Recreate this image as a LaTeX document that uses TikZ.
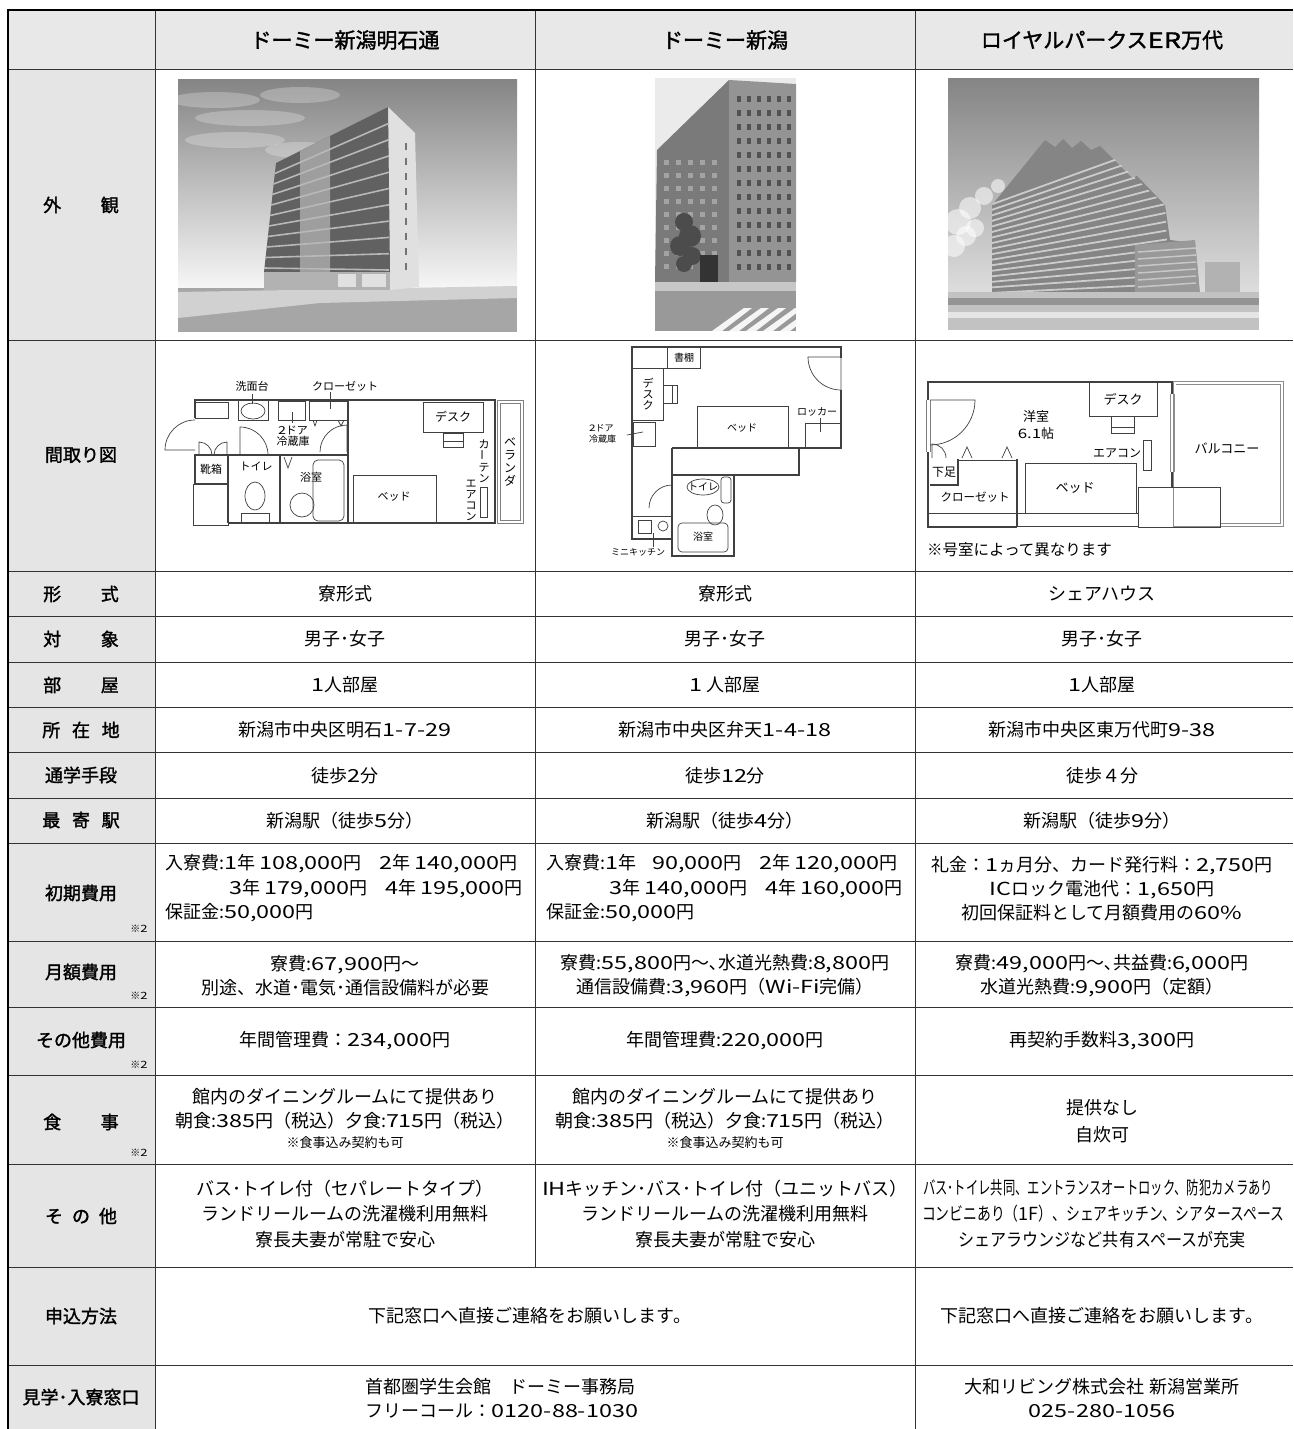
\documentclass[tikz,border=0pt]{standalone}
\usepackage{fontspec}
\setmainfont{Noto Sans CJK JP}[BoldFont={Noto Sans CJK JP}, BoldFeatures={FakeBold=1.6}]
\newfontfamily\latfont{Noto Sans CJK JP}[FakeStretch=1.3, BoldFont={Noto Sans CJK JP}, BoldFeatures={FakeBold=1.6}]
\usetikzlibrary{positioning}

\XeTeXinterchartokenstate=1
\newXeTeXintercharclass\latcls
\newcount\clsn
\def\setlat#1{\XeTeXinterchartoks #1 \latcls={\latfont}\XeTeXinterchartoks \latcls #1={\rmfamily}}
\clsn=0
\loop\ifnum\clsn<\latcls \setlat{\clsn}\advance\clsn by 1 \repeat
\setlat{4095}
\def\latrange#1#2{\clsn=#1 \loop\ifnum\clsn<#2 \XeTeXcharclass\clsn=\latcls \advance\clsn by 1 \repeat}
\latrange{`0}{`:}
\latrange{`A}{`[}
\latrange{`a}{`\{}
\XeTeXcharclass`,=\latcls
\XeTeXcharclass`.=\latcls
\XeTeXcharclass`-=\latcls
\XeTeXcharclass`\%=\latcls

\tikzset{
  grid/.style={line width=1pt, draw=black!80},
  edge/.style={line width=2.6pt, draw=black},
  head/.style={font=\bfseries\fontsize{21}{24}\selectfont, inner sep=0pt},
  lab/.style={font=\bfseries\fontsize{18}{22}\selectfont, align=center, inner sep=0pt},
  txt/.style={font=\fontsize{18}{24}\selectfont, align=center, inner sep=0pt},
  small/.style={font=\fontsize{13}{15}\selectfont, inner sep=0pt},
  mark2/.style={font=\fontsize{10}{11}\selectfont, inner sep=0pt},
  wall/.style={line width=2.4pt, draw=black!75},
  thin/.style={line width=0.7pt, draw=black!75},
  pl/.style={font=\fontsize{11}{11}\selectfont, inner sep=0pt, align=center},
}

\begin{document}
\begin{tikzpicture}[x=1pt,y=-1pt]
\useasboundingbox (0,0) rectangle (1293,1429);
\fill[white] (0,0) rectangle (1293,1429);

\fill[black!9] (8,10) rectangle (1293,70);
\fill[black!10] (8,70) rectangle (155,1429);

\foreach \y in {70,340,571,616,662,707,752,798,843,941,1007,1075,1164,1267,1365}
  \draw[grid] (8,\y) -- (1293,\y);
\draw[grid] (155,10) -- (155,1429);
\draw[grid] (535,10) -- (535,1267);
\draw[grid] (915,10) -- (915,1429);
\draw[edge] (8,10) -- (1293,10);
\draw[edge] (8,8.7) -- (8,1429);

% photos
\begin{scope}
\clip (178,79) rectangle (517,332);
\shade[top color=black!48, bottom color=black!3] (178,79) rectangle (517,290);
\foreach \cx/\cy/\rx in {215/100/45, 250/118/55, 300/95/40, 235/140/50, 300/150/35}
  \fill[white, opacity=0.25] (\cx,\cy) ellipse [x radius=\rx, y radius=8];
\fill[black!35] (178,288) rectangle (517,332);
\fill[black!18] (178,292) -- (517,286) -- (517,298) -- (320,303) -- (178,318) -- cycle;
\fill[black!12] (388,107) -- (415,133) -- (419,287) -- (390,290) -- cycle;
\fill[black!62] (276,163) -- (388,107) -- (390,272) -- (264,272) -- cycle;
\fill[black!38] (300,151) -- (330,136) -- (330,272) -- (300,272) -- cycle;
\foreach \i in {1,...,10}
  \draw[black!28, line width=1.6pt] ({276-1.2*\i},{163+10.5*\i}) -- (389,{107+16.3*\i});
\fill[black!30] (264,272) rectangle (390,290);
\fill[black!12] (338,274) rectangle (356,287);
\fill[black!12] (362,274) rectangle (386,287);
\foreach \i in {1,...,9}
  \fill[black!55] (405,{128+15*\i}) rectangle (407,{135+15*\i});
\end{scope}

\begin{scope}
\clip (655,78) rectangle (796,331);
\fill[black!8] (655,78) rectangle (796,331);
\fill[black!52] (657,150) -- (729,80) -- (729,282) -- (655,282) -- cycle;
\fill[black!42] (729,80) -- (796,84) -- (796,282) -- (729,282) -- cycle;
\foreach \c in {0,...,5}
  \foreach \r in {0,...,12}
    \fill[black!68] ({737+10*\c},{96+14*\r}) rectangle ++(4,6);
\foreach \c in {0,...,4}
  \foreach \r in {0,...,8}
    \fill[black!36] ({664+12*\c},{160+13*\r}) rectangle ++(5,5);
\foreach \cx/\cy/\r in {684/222/9, 690/236/11, 680/246/10, 692/256/9, 684/264/8}
  \fill[black!70] (\cx,\cy) circle (\r);
\fill[black!80] (700,255) rectangle (718,282);
\fill[black!40] (655,282) rectangle (796,331);
\fill[black!22] (655,282) rectangle (796,291);
\foreach \k in {0,...,5}
  \fill[black!4] ({712+17*\k},331) -- ({722+17*\k},331) -- ({752+17*\k},308) -- ({744+17*\k},308) -- cycle;
\end{scope}

\begin{scope}
\clip (948,78) rectangle (1259,330);
\shade[top color=black!48, bottom color=black!12] (948,78) rectangle (1259,300);
\foreach \cx/\cy/\r in {958/222/13, 970/208/11, 984/196/9, 954/246/11, 966/236/10, 998/186/7, 975/228/9}
  \fill[white, opacity=0.55] (\cx,\cy) circle (\r);
\fill[black!48] (992,205) -- (1045,140) -- (1055,147) -- (1063,139) -- (1072,148) -- (1081,141) -- (1091,150) -- (1100,146) -- (1132,178) -- (1137,176) -- (1165,205) -- (1170,240) -- (1195,243) -- (1200,295) -- (992,295) -- cycle;
\begin{scope}
\clip (992,205) -- (1045,140) -- (1100,146) -- (1165,205) -- (1170,295) -- (992,295) -- cycle;
\foreach \i in {0,...,16}
  \draw[black!20, line width=1.8pt] (990,{205+5.5*\i}) -- (1170,{140+9*\i});
\end{scope}
\fill[black!40] (1135,245) -- (1195,240) -- (1200,295) -- (1135,295) -- cycle;
\foreach \i in {0,...,5}
  \draw[black!22, line width=1.5pt] (1138,{252+7*\i}) -- (1196,{248+7*\i});
\fill[black!30] (1205,262) rectangle (1240,300);
\fill[black!24] (948,292) rectangle (1259,330);
\fill[black!42] (948,298) rectangle (1259,305);
\fill[black!10] (948,312) rectangle (1259,318);
\end{scope}

% floor plan 1
\draw[wall] (195,418) |- (495,400) |- (228,523);
\draw[wall] (348,400) -- (348,523);
\draw[wall] (228,455) -- (348,455);
\draw[wall] (228,455) -- (228,523);
\draw[wall] (280,455) -- (280,523);
\draw[wall] (195,455) rectangle (228,484);
\draw[thin] (193,484) rectangle (228,525);
\draw[thin] (195,450) -- (165,450) arc[start angle=180, end angle=270, radius=30];
\draw[thin] (195,402) rectangle (228,418);
\draw[thin] (238,400) -- (238,420) -- (268,420) -- (268,400);
\draw[thin] (253,411) ellipse [x radius=12, y radius=8];
\draw[thin] (278,401) rectangle (305,420);
\draw[thin] (292,412) -- (292,423);
\draw[thin] (309,401) rectangle (347,420);
\draw[thin] (330,392) -- (330,409);
\draw[thin] (252,394) -- (252,404);
\node[pl] (p1sink) at (252,386) {洗面台};
\node[pl] (p1clos) at (345,386) {クローゼット};
\node[pl] (p1ref) at (293,436) {2ドア\\冷蔵庫};
\draw[thin] (240,455) -- (240,427) arc[start angle=270, end angle=360, radius=28];
\draw[thin] (347,452) -- (347,425) arc[start angle=270, end angle=180, radius=27];
\draw[thin] (199,455) -- (199,442) arc[start angle=270, end angle=360, radius=13];
\draw[thin] (227,455) -- (227,442) arc[start angle=270, end angle=180, radius=13];
\node[pl] (p1shoe) at (211,469) {靴箱};
\node[pl] (p1wc) at (256,466) {トイレ};
\draw[thin] (255,496) ellipse [x radius=10, y radius=14];
\draw[thin] (241,523) -- (241,513) -- (269,513) -- (269,523);
\draw[thin] (284,457) -- (288,468) -- (292,457);
\node[pl] (p1bath) at (311,477) {浴室};
\draw[thin, rounded corners=5] (313,460) rectangle (344,521);
\draw[thin] (302,505) circle (12);
\draw[thin] (313,420) -- (315,426) -- (317,420);
\draw[thin] (338,420) -- (341,426) -- (344,420);
\draw[thin] (423,402) rectangle (483,432);
\node[pl, font=\fontsize{12}{12}\selectfont] (p1desk) at (453,417) {デスク};
\draw[thin] (443,433) rectangle (463,447);
\draw[thin] (443,441) -- (463,441);
\draw[thin] (353,475) rectangle (436,523);
\node[pl] (p1bed) at (394,497) {ベッド};
\draw[thin] (480,487) rectangle (487,517);
\node[pl] (p1cur) at (484,461) {カ\\\rotatebox{90}{ー}\\テ\\ン};
\node[pl] (p1ac) at (471,500) {エ\\ア\\コ\\ン};
\draw[thin, draw=black!50] (497,400) rectangle (523,523);
\draw[thin, draw=black!50] (500,403) rectangle (520,520);
\node[pl, font=\fontsize{12}{13}\selectfont] (p1ver) at (510,462) {ベ\\ラ\\ン\\ダ};

% floor plan 2
\draw[wall] (632,347) -- (841,347) -- (841,448) -- (799,448) -- (799,475) -- (734,475) -- (734,556) -- (672,556) -- (672,539) -- (632,539) -- cycle;
\draw[wall] (672,448) -- (799,448);
\draw[wall] (672,448) -- (672,556);
\draw[wall] (672,475) -- (734,475);
\draw[line width=2.4pt, black!25] (841,358) -- (841,390);
\draw[thin] (632,368) -- (700,368) -- (700,347);
\draw[thin] (667,347) -- (667,368);
\node[pl, font=\fontsize{10}{10}\selectfont] (p2shelf) at (684,358) {書棚};
\draw[thin] (632,420) -- (663,420) -- (663,368);
\node[pl] (p2desk) at (648,394) {デ\\ス\\ク};
\draw[thin] (663,385) rectangle (677,403);
\draw[thin] (672,385) -- (672,403);
\draw[thin] (633,422) rectangle (655,446);
\draw[thin] (627,435) -- (643,432);
\node[pl, font=\fontsize{9}{11}\selectfont, align=left, anchor=west] (p2ref) at (589,434) {2ドア\\冷蔵庫};
\draw[thin] (697,448) -- (697,406) -- (788,406) -- (788,448);
\node[pl, font=\fontsize{10}{10}\selectfont] (p2bed) at (742,428) {ベッド};
\draw[thin] (805,448) -- (805,423) -- (841,423);
\draw[thin] (820,418) -- (820,432);
\node[pl, font=\fontsize{10}{10}\selectfont] (p2lock) at (817,412) {ロッカー};
\draw[thin] (841,357) -- (808,357) arc[start angle=180, end angle=90, radius=33];
\draw[thin] (672,485) arc[start angle=270, end angle=180, radius=23];
\draw[thin] (632,516) -- (672,516);
\draw[thin] (638,520) rectangle (651,533);
\draw[thin] (663,526) circle (5);
\draw[thin] (653,533) -- (653,547);
\node[pl, font=\fontsize{9}{10}\selectfont] (p2kit) at (638,552) {ミニキッチン};
\draw[thin] (703,487) ellipse [x radius=16, y radius=8];
\node[pl, font=\fontsize{10}{10}\selectfont] (p2wc) at (703,487) {トイレ};
\draw[thin, rounded corners=3] (721,477) rectangle (731,503);
\draw[thin] (715,515) ellipse [x radius=8, y radius=10];
\draw[thin, rounded corners=4] (678,523) rectangle (728,552);
\node[pl, font=\fontsize{10}{10}\selectfont] (p2bath) at (703,537) {浴室};

% floor plan 3
\draw[wall] (928,400) |- (1173,382);
\draw[wall] (928,452) -- (928,527) -- (1017,527);
\draw[thin, black!50] (926,400) -- (926,452);
\draw[thin, black!50] (930,400) -- (930,452);
\draw[thin] (930,400) -- (975,400) arc[start angle=0, end angle=90, radius=45];
\draw[wall] (1172,382) -- (1172,394);
\draw[wall] (1172,472) -- (1172,488);
\draw[thin, black!45] (1170,394) -- (1170,472);
\draw[thin, black!45] (1174,394) -- (1174,472);
\draw[thin, black!45] (1173,381) rectangle (1283,526);
\draw[thin, black!45] (1176,384) -| (1280,523) -- (1220,523);
\node[pl, font=\fontsize{13}{13}\selectfont] (p3balc) at (1227,448) {バルコニー};
\draw[thin] (1089,382) rectangle (1157,416);
\node[pl, font=\fontsize{13}{13}\selectfont] (p3desk) at (1123,399) {デスク};
\draw[thin] (1111,416) rectangle (1134,433);
\draw[thin] (1111,427) -- (1134,427);
\node[pl, font=\fontsize{13}{17}\selectfont] (p3room) at (1036,425) {洋室\\6.1帖};
\node[pl, font=\fontsize{12}{12}\selectfont] (p3ac) at (1117,453) {エアコン};
\draw[thin] (1143,440) rectangle (1151,470);
\draw[thin] (932,458) -- (932,444) arc[start angle=270, end angle=360, radius=14];
\draw[thin] (962,458) -- (967,447) -- (972,458);
\draw[thin] (1002,458) -- (1007,447) -- (1012,458);
\draw[wall] (958,459) |- (930,485);
\draw[thin] (958,460) -- (1017,460);
\draw[wall] (1017,459) -- (1017,527);
\node[pl, font=\fontsize{12}{12}\selectfont] (p3foot) at (944,472) {下足};
\node[pl, font=\fontsize{11.5}{12}\selectfont] (p3clos) at (975,497) {クローゼット};
\draw[thin] (928,513) -- (1138,513);
\draw[thin] (1017,526) -- (1138,526);
\draw[thin] (1025,513) -- (1025,463) -- (1136,463) -- (1136,513);
\node[pl, font=\fontsize{13}{13}\selectfont] (p3bed) at (1075,488) {ベッド};
\draw[thin] (1138,527) -- (1138,487) -- (1220,487) -- (1220,527) -- cycle;
\node[font=\fontsize{15.5}{16}\selectfont, anchor=west, inner sep=0pt] (p3note) at (927,550) {※号室によって異なります};

% header and labels
\node[head] (h1) at (345,40) {ドーミー新潟明石通};
\node[head] (h2) at (725,40) {ドーミー新潟};
\node[head] (h3) at (1102,40) {ロイヤルパークスER万代};

\node[lab] (l-gai) at (81,205) {外\hspace{2.2em}観};
\node[lab] (l-mad) at (81,455) {間取り図};
\node[lab] (l-kei) at (81,594) {形\hspace{2.2em}式};
\node[lab] (l-tai) at (81,639) {対\hspace{2.2em}象};
\node[lab] (l-heya) at (81,685) {部\hspace{2.2em}屋};
\node[lab] (l-sho) at (81,730) {所\hspace{0.65em}在\hspace{0.65em}地};
\node[lab] (l-tsu) at (81,775) {通学手段};
\node[lab] (l-moy) at (81,820) {最\hspace{0.65em}寄\hspace{0.65em}駅};
\node[lab] (l-shoki) at (81,893) {初期費用};
\node[lab] (l-getsu) at (81,972) {月額費用};
\node[lab] (l-sono) at (81,1040) {その他費用};
\node[lab] (l-shoku) at (81,1122) {食\hspace{2.2em}事};
\node[lab] (l-other) at (81,1216) {そ\hspace{0.5em}の\hspace{0.5em}他};
\node[lab] (l-mou) at (81,1316) {申込方法};
\node[lab] (l-ken) at (81,1397) {見学･入寮窓口};
\node[mark2] (m1) at (139,929) {※2};
\node[mark2] (m2) at (139,996) {※2};
\node[mark2] (m3) at (139,1065) {※2};
\node[mark2] (m4) at (139,1153) {※2};

% simple rows
\foreach \n/\y/\a/\b/\c in {kei/594/寮形式/寮形式/シェアハウス,
    tai/639/男子･女子/男子･女子/男子･女子,
    heya/685/1人部屋/1 人部屋/1人部屋,
    sho/730/新潟市中央区明石1-7-29/新潟市中央区弁天1-4-18/新潟市中央区東万代町9-38,
    tsu/776/徒歩2分/徒歩12分/徒歩４分,
    moy/821/新潟駅（徒歩5分）/新潟駅（徒歩4分）/新潟駅（徒歩9分）}{
  \node[txt] (\n-a) at (345,\y) {\a};
  \node[txt] (\n-b) at (725,\y) {\b};
  \node[txt] (\n-c) at (1102,\y) {\c};
}

% initial costs
\node[txt, anchor=west] (shoki-a1) at (165,864) {入寮費:1年 108,000円　2年 140,000円};
\node[txt, anchor=east] (shoki-a2) at (523,889) {3年 179,000円　4年 195,000円};
\node[txt, anchor=west] (shoki-a3) at (165,913) {保証金:50,000円};
\node[txt, anchor=west] (shoki-b1) at (546,864) {入寮費:1年\hspace{0.9em}90,000円　2年 120,000円};
\node[txt, anchor=east] (shoki-b2) at (903,889) {3年 140,000円　4年 160,000円};
\node[txt, anchor=west] (shoki-b3) at (546,913) {保証金:50,000円};
\node[txt] (shoki-c) at (1102,889) {礼金：1ヵ月分、カード発行料：2,750円\\ICロック電池代：1,650円\\初回保証料として月額費用の60\%};

\node[txt] (getsu-a) at (345,976) {寮費:67,900円～\\別途、水道･電気･通信設備料が必要};
\node[txt] (getsu-b) at (725,976) {寮費:55,800円～､水道光熱費:8,800円\\通信設備費:3,960円（Wi-Fi完備）};
\node[txt] (getsu-c) at (1102,976) {寮費:49,000円～､共益費:6,000円\\水道光熱費:9,900円（定額）};

\node[txt] (sono-a) at (345,1041) {年間管理費：234,000円};
\node[txt] (sono-b) at (725,1041) {年間管理費:220,000円};
\node[txt] (sono-c) at (1102,1041) {再契約手数料3,300円};

\node[txt] (shoku-a) at (345,1109) {館内のダイニングルームにて提供あり\\朝食:385円（税込）夕食:715円（税込）};
\node[small] (shoku-a3) at (345,1143) {※食事込み契約も可};
\node[txt] (shoku-b) at (725,1109) {館内のダイニングルームにて提供あり\\朝食:385円（税込）夕食:715円（税込）};
\node[small] (shoku-b3) at (725,1143) {※食事込み契約も可};
\node[txt, font=\fontsize{18}{27}\selectfont] (shoku-c) at (1102,1121) {提供なし\\自炊可};

\node[txt, font=\fontsize{18}{25.5}\selectfont] (other-a) at (345,1214) {バス･トイレ付（セパレートタイプ）\\ランドリールームの洗濯機利用無料\\寮長夫妻が常駐で安心};
\node[txt, font=\fontsize{18}{25.5}\selectfont] (other-b) at (725,1214) {IHキッチン･バス･トイレ付（ユニットバス）\\ランドリールームの洗濯機利用無料\\寮長夫妻が常駐で安心};
\node[txt] (other-c1) at (1098,1188) {\resizebox{350pt}{\height}{バス･トイレ共同、エントランスオートロック、防犯カメラあり}};
\node[txt] (other-c2) at (1103,1214) {\resizebox{362pt}{\height}{コンビニあり（1F）、シェアキッチン、シアタースペース}};
\node[txt] (other-c3) at (1102,1240) {\resizebox{287pt}{\height}{シェアラウンジなど共有スペースが充実}};

\node[txt] (mou-ab) at (530,1316) {下記窓口へ直接ご連絡をお願いします。};
\node[txt] (mou-c) at (1102,1316) {下記窓口へ直接ご連絡をお願いします。};

\node[txt, align=left] (ken-ab) at (502,1398) {首都圏学生会館　ドーミー事務局\\フリーコール：0120-88-1030};
\node[txt] (ken-c) at (1102,1398) {大和リビング株式会社 新潟営業所\\025-280-1056};
\end{tikzpicture}
\end{document}
